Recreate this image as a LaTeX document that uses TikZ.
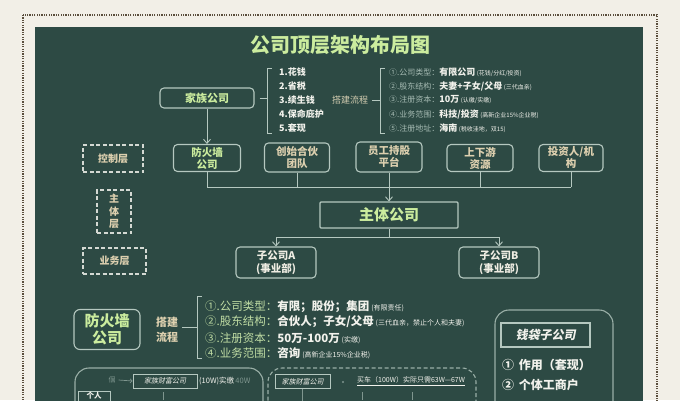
\documentclass[tikz,border=0pt]{standalone}
\usepackage{fontspec}
\setmainfont{Noto Sans CJK SC}
\usetikzlibrary{arrows.meta}
\definecolor{board}{HTML}{2D4A44}
\definecolor{cream}{HTML}{F2EFE7}
\definecolor{framec}{HTML}{5A4E3C}
\definecolor{edge}{HTML}{B5C8C0}
\definecolor{grn}{HTML}{CBEC9E}
\definecolor{tanc}{HTML}{DDD0AF}
\definecolor{wht}{HTML}{F2F2EC}
\definecolor{lbl}{HTML}{A6BBB3}
\definecolor{faint}{HTML}{7F968F}
\newcommand\fs[2]{\fontsize{#1}{#2}\selectfont}
\begin{document}
\begin{tikzpicture}[x=1pt,y=-1pt,
  box/.style={draw=edge,line width=1.1pt,rounded corners=4pt,align=center,inner sep=0pt},
  dbox/.style={draw=wht!85!board,line width=1.2pt,dash pattern=on 4pt off 2.5pt,align=center,inner sep=0pt},
  conn/.style={draw=edge,line width=0.9pt},
  arr/.style={conn,-{Straight Barb[length=4pt,width=7pt]}},
  item/.style={anchor=west,inner sep=0pt,text=wht,font=\bfseries\fs{9}{10}},
  bitem/.style={anchor=west,inner sep=0pt,text=wht,font=\fs{11.5}{13}},
]
\clip (0,0) rectangle (680,400);
\fill[cream] (0,0) rectangle (680,400);
\draw[framec,line width=1.3pt,dash pattern=on 1.2pt off 1.2pt] (23,15) rectangle (657,430);
\fill[board] (35,27) rectangle (643,430);

% title
\node[text=grn,font=\bfseries\fs{20}{22}] (title) at (340,45) {公司顶层架构布局图};

% family company and lists
\node[box,minimum width=94pt,minimum height=20pt,text=grn,font=\bfseries\fs{11}{12}] (jz) at (207,98) {家族公司};
\coordinate (b1t) at (267,68);
\coordinate (b1b) at (267,133);
\coordinate (b1m) at (267,98);
\draw[conn] (b1t) ++(5,0) -- (b1t) -- (b1b) -- ++(5,0);
\draw[conn] (jz.east) ++(5,0) -- (b1m);
\node[item] (l1) at (279,72) {1.花钱};
\node[item] (l2) at (279,86) {2.省税};
\node[item] (l3) at (279,100) {3.续生钱};
\node[item] (l4) at (279,114) {4.保命庇护};
\node[item] (l5) at (279,128) {5.套现};
\node[text=tanc!80!lbl,font=\fs{9}{10},inner sep=0pt] (dj) at (350,100) {搭建流程};
\coordinate (b2t) at (380,68);
\coordinate (b2b) at (380,133);
\coordinate (b2m) at (380,100);
\draw[conn] (b2t) ++(5,0) -- (b2t) -- (b2b) -- ++(5,0);
\draw[conn] (dj.east) ++(4,0) -- (b2m);
\node[item,font=\fs{9}{10}] (r1) at (389,72) {{\color{lbl}\fs{8}{9}①.公司类型：}{\bfseries 有限公司}\,{\fs{6}{7}(花钱/分红/投资)}};
\node[item,font=\fs{9}{10}] (r2) at (389,86) {{\color{lbl}\fs{8}{9}②.股东结构：}{\bfseries 夫妻+子女/父母}\,{\fs{6}{7}(三代血亲)}};
\node[item,font=\fs{9}{10}] (r3) at (389,100) {{\color{lbl}\fs{8}{9}③.注册资本：}{\bfseries 10万}\,{\fs{6}{7}(认缴/实缴)}};
\node[item,font=\fs{9}{10}] (r4) at (389,114) {{\color{lbl}\fs{8}{9}④.业务范围：}{\bfseries 科技/投资}\,{\fs{6}{7}(高新企业15\%企业税)}};
\node[item,font=\fs{9}{10}] (r5) at (389,128) {{\color{lbl}\fs{8}{9}⑤.注册地址：}{\bfseries 海南}\,{\fs{6}{7}(税收洼地，双15)}};

% control row
\node[box,minimum width=67pt,minimum height=27pt,text=grn,font=\bfseries\fs{10.5}{12}] (fw) at (207,158) {防火墙\\公司};
\node[box,minimum width=65pt,minimum height=29pt,text=tanc,font=\bfseries\fs{10.5}{12}] (tz) at (297,157.5) {创始合伙\\团队};
\node[box,minimum width=66pt,minimum height=30pt,text=tanc,font=\bfseries\fs{10.5}{12}] (yg) at (389,157) {员工持股\\平台};
\node[box,minimum width=66pt,minimum height=27pt,text=tanc,font=\bfseries\fs{10.5}{12}] (sx) at (480,158) {上下游\\资源};
\node[box,minimum width=64pt,minimum height=27pt,text=tanc,font=\bfseries\fs{10.5}{12}] (tx) at (571,158) {投资人/机\\构};
\draw[arr] (jz.south) -- (fw.north);
\coordinate (busL) at (207,187);
\coordinate (busR) at (571,187);
\draw[conn] (fw.south) -- (fw.south |- busL);
\draw[conn] (tz.south) -- (tz.south |- busL);
\draw[conn] (sx.south) -- (sx.south |- busL);
\draw[conn] (tx.south) -- (tx.south |- busL);
\draw[conn] (busL) -- (busR);

% main company
\node[draw=edge,line width=1.1pt,rounded corners=1pt,minimum width=138pt,minimum height=26pt,inner sep=0pt,text=grn,font=\bfseries\fs{15}{16}] (main) at (389,215) {主体公司};
\draw[arr] (yg.south) -- (main.north);
\coordinate (bus2) at (389,237);
\node[box,minimum width=80pt,minimum height=31pt,text=wht!85!tanc,font=\bfseries\fs{10.5}{12.5}] (sa) at (276,262.5) {子公司A\\(事业部)};
\node[box,minimum width=80pt,minimum height=31pt,text=wht!85!tanc,font=\bfseries\fs{10.5}{12.5}] (sb) at (499,262.5) {子公司B\\(事业部)};
\draw[conn] (main.south) -- (bus2);
\draw[conn] (sa.north |- bus2) -- (sb.north |- bus2);
\draw[arr] (sa.north |- bus2) -- (sa.north);
\draw[arr] (sb.north |- bus2) -- (sb.north);

% layer labels
\node[dbox,minimum width=60pt,minimum height=27pt,text=tanc,font=\bfseries\fs{10}{12}] (kz) at (113,158.5) {控制层};
\node[dbox,minimum width=34pt,minimum height=43pt,text=tanc,font=\bfseries\fs{10}{12.5}] (zt) at (114,211.5) {主\\体\\层};
\node[dbox,minimum width=63pt,minimum height=26pt,text=tanc,font=\bfseries\fs{10}{12}] (yw) at (114.5,261) {业务层};

% firewall company detail
\node[box,rounded corners=6pt,minimum width=66pt,minimum height=40pt,text=grn,font=\bfseries\fs{15}{17}] (fw2) at (107,329.5) {防火墙\\公司};
\node[text=tanc,font=\bfseries\fs{11}{15},align=center,inner sep=0pt] (dj2) at (167,330) {搭建\\流程};
\coordinate (b3t) at (197,296);
\coordinate (b3b) at (197,358);
\coordinate (b3m) at (197,327);
\draw[conn] (b3t) ++(5,0) -- (b3t) -- (b3b) -- ++(5,0);
\draw[conn] (dj2.east) ++(4,-3) -- (b3m);
\node[bitem] (f1) at (205,307) {{\color{grn!70!lbl}①.公司类型：}{\bfseries 有限；股份；集团}\,{\fs{7}{8}(有限责任)}};
\node[bitem] (f2) at (205,322) {{\color{grn!70!lbl}②.股东结构：}{\bfseries 合伙人；子女/父母}\,{\fs{7}{8}(三代血亲，禁止个人和夫妻)}};
\node[bitem] (f3) at (205,338) {{\color{grn!70!lbl}③.注册资本：}{\bfseries 50万-100万}\,{\fs{7}{8}(实缴)}};
\node[bitem] (f4) at (205,353) {{\color{grn!70!lbl}④.业务范围：}{\bfseries 咨询}\,{\fs{7}{8}(高新企业15\%企业税)}};

% money bag subsidiary
\draw[edge!80!board,line width=1.1pt,rounded corners=14pt] (495,420) -- (495,310) -- (613,310) -- (613,420);
\node[draw=edge,line width=1.1pt,minimum width=89pt,minimum height=24pt,inner sep=0pt,text=wht,font=\bfseries\fs{12}{13}] (qd) at (545.5,335) {\addfontfeature{FakeSlant=0.2}钱袋子公司};
\node[anchor=west,inner sep=0pt,text=wht,font=\bfseries\fs{12}{13}] (q1) at (502,365) {①\, 作用（套现）};
\node[anchor=west,inner sep=0pt,text=wht,font=\bfseries\fs{12}{13}] (q2) at (502,385) {②\, 个体工商户};

% bottom left panel
\draw[edge!80!board,line width=1.1pt,rounded corners=14pt] (75,420) -- (75,368) -- (263,368) -- (263,420);
\node[inner sep=0pt,text=faint,font=\fs{7}{8}] (ge) at (112,380) {個};
\node[draw=edge,line width=0.9pt,minimum width=64pt,minimum height=14pt,inner sep=0pt,text=wht,font=\fs{7}{8}] (jc1) at (165,381) {\addfontfeature{FakeSlant=0.2}家族财富公司};
\draw[faint,line width=0.7pt,-{Straight Barb[length=2pt,width=4pt]}] (ge.east) ++(3,0) -- (jc1.west);
\node[anchor=west,inner sep=0pt,text=wht,font=\fs{7.5}{8}] (sj) at (199,381) {(10W)实缴\,{\color{faint}40W}};
\draw[edge,line width=0.9pt] (78,405) -- (78,391.5) -- (110,391.5) -- (110,405);
\node[inner sep=0pt,text=wht,font=\bfseries\fs{7.5}{8}] (gr) at (94,395.8) {个人};
\draw[faint,line width=0.7pt] (163,392) -- (163,400);

% bottom middle panel
\draw[edge!80!board,line width=1.1pt,dash pattern=on 4pt off 2.5pt,rounded corners=14pt] (268,420) -- (268,368) -- (476,368) -- (476,420);
\node[draw=edge,line width=0.9pt,minimum width=55pt,minimum height=14pt,inner sep=0pt,text=wht,font=\fs{7}{8}] (jc2) at (302.5,381.5) {\addfontfeature{FakeSlant=0.2}家族财富公司};
\draw[faint,line width=0.7pt] (jc2.south) -- ++(0,15);
\node[circle,fill=faint,inner sep=0.8pt] (dot) at (343,382) {};
\node[anchor=west,inner sep=0pt,text=wht,font=\fs{7}{8}] (mc) at (357,381) {\underline{买车（100W）实际只需63W—67W}};
\draw[faint,line width=0.7pt] (362,392) -- (362,400);
\draw[faint,line width=0.7pt] (412,392) -- (412,400);
\end{tikzpicture}
\end{document}
